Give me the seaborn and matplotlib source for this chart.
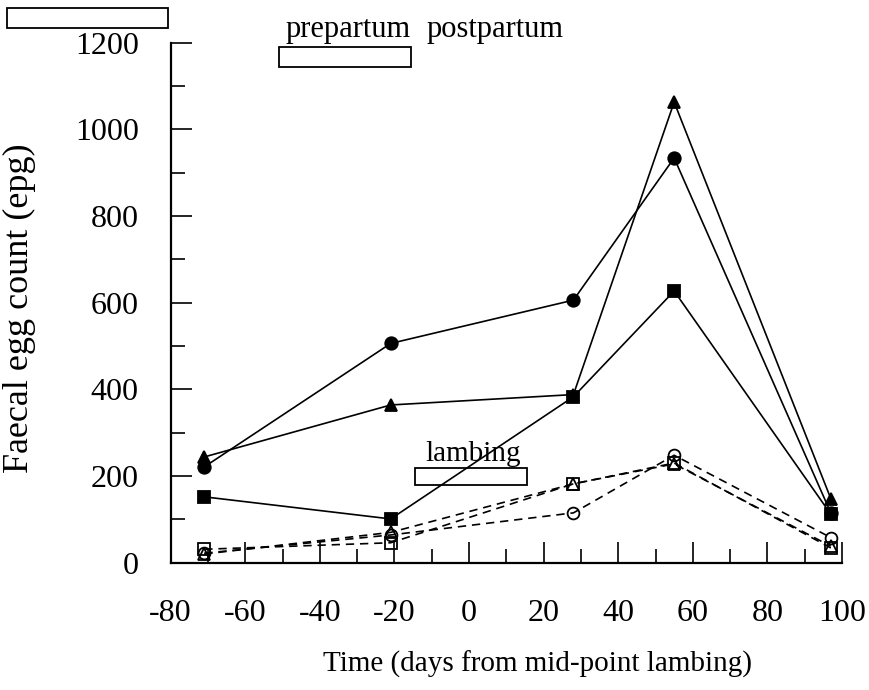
import matplotlib
matplotlib.use("Agg")
import matplotlib.pyplot as plt
import seaborn as sns
from matplotlib.patches import Rectangle
from matplotlib.ticker import MultipleLocator

# ==========================================================
# Data
# ==========================================================

days = [-71, -21, 28, 55, 97]

filled_circle = [221, 506, 606, 934, 115]
filled_triangle = [244, 364, 388, 1063, 148]
filled_square = [152, 101, 383, 627, 112]

open_circle = [22, 64, 115, 248, 58]
open_square = [31, 46, 182, 230, 34]
open_triangle = [20, 70, 182, 228, 38]

series = [
    (filled_circle, "o", True),
    (filled_triangle, "^", True),
    (filled_square, "s", True),
    (open_circle, "o", False),
    (open_square, "s", False),
    (open_triangle, "^", False),
]

x_ticks = [-80, -60, -40, -20, 0, 20, 40, 60, 80, 100]
y_ticks = [0, 200, 400, 600, 800, 1000, 1200]

sns.set_style("ticks")
plt.rcParams["font.family"] = ["Liberation Serif", "DejaVu Serif"]
plt.rcParams["axes.unicode_minus"] = False
plt.rcParams["text.color"] = "black"
plt.rcParams["axes.labelcolor"] = "black"

fig = plt.figure(figsize=(8.69, 6.9), dpi=100)
ax = fig.add_axes([0.1964, 0.1845, 0.7725, 0.7536])

for values, marker, filled in series:
    sns.lineplot(
        x=days,
        y=values,
        ax=ax,
        color="black",
        linestyle="-" if filled else (0, (5, 3.5)),
        linewidth=1.2,
        marker=marker,
        markersize=9 if filled else 8.5,
        markerfacecolor="black" if filled else "none",
        markeredgecolor="black",
        markeredgewidth=1.3,
        clip_on=False,
    )

ax.set_xlim(-80, 100)
ax.set_ylim(0, 1200)
ax.set_xticks(x_ticks)
ax.set_yticks(y_ticks)
ax.xaxis.set_minor_locator(MultipleLocator(10))
ax.yaxis.set_minor_locator(MultipleLocator(100))

ax.tick_params(which="both", direction="in", width=1.2, colors="black",
               labelsize=23)
ax.tick_params(which="major", length=15)
ax.tick_params(which="minor", length=10)
ax.tick_params(axis="x", which="major", pad=26)
ax.tick_params(axis="y", which="major", pad=23)

for side in ["top", "right"]:
    ax.spines[side].set_visible(False)
for side in ["left", "bottom"]:
    ax.spines[side].set_linewidth(1.6)
    ax.spines[side].set_color("black")

ax.set_xlabel("Time (days from mid-point lambing)", fontsize=21)
ax.xaxis.set_label_coords(0.547, -0.17)
ax.set_ylabel("Faecal egg count (epg)", fontsize=26)
ax.yaxis.set_label_coords(-0.2, 0.49)

# ==========================================================
# Annotations
# ==========================================================

ax.add_patch(Rectangle((-51, 1143), 35.4, 48, fill=False,
                       edgecolor="black", linewidth=1.3, clip_on=False))
ax.text(-32.5, 1230, "prepartum", ha="center", va="center", fontsize=22)
ax.text(7, 1230, "postpartum", ha="center", va="center", fontsize=22)

ax.add_patch(Rectangle((-14.5, 179), 30, 39, fill=False,
                       edgecolor="black", linewidth=1.3))
ax.text(1, 250, "lambing", ha="center", va="center", fontsize=21)

fig.add_artist(Rectangle((7 / 869, 1 - 28 / 690), 161 / 869, 20 / 690,
                         transform=fig.transFigure, fill=False,
                         edgecolor="black", linewidth=1.3))

plt.savefig("out.png", dpi=100)
plt.close()
